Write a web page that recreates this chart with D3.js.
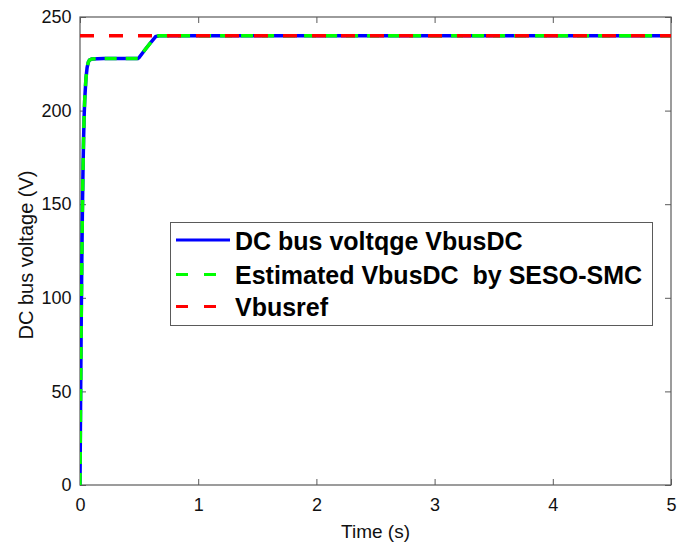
<!DOCTYPE html>
<html>
<head>
<meta charset="utf-8">
<script src="https://cdn.jsdelivr.net/npm/d3@7"></script>
<style>
  html, body { margin: 0; padding: 0; background: #fff; }
  svg { display: block; font-family: Arial, "Liberation Sans", sans-serif; }
</style>
</head>
<body>
<svg id="chart" width="680" height="545"></svg>
<script>
// Time (s) and DC bus voltage (V) samples
const timeS = [0, 0.005, 0.01, 0.015, 0.02, 0.025, 0.03, 0.035, 0.04, 0.05, 0.06, 0.07, 0.08, 0.1, 0.2, 0.3, 0.4, 0.49, 0.5, 0.55, 0.6, 0.64, 0.67, 1, 2, 3, 4, 5];
const vbusDC = [0, 45, 85, 118, 145, 167, 184, 197, 206, 217, 223, 225.8, 227, 227.6, 227.8, 227.8, 227.8, 227.8, 228.3, 232.5, 236.5, 239.5, 240, 240, 240, 240, 240, 240];
const vbusEst = [0, 45, 85, 118, 145, 167, 184, 197, 206, 217, 223, 225.8, 227, 227.6, 227.8, 227.8, 227.8, 227.8, 228.3, 232.5, 236.5, 239.5, 240, 240, 240, 240, 240, 240];
const refTime = [0, 5];
const vbusRef = [240, 240];

const xTicks = [0, 1, 2, 3, 4, 5];
const yTicks = [0, 50, 100, 150, 200, 250];
const legendLabels = ["DC bus voltqge VbusDC", "Estimated VbusDC  by SESO-SMC", "Vbusref"];

const svg = d3.select("#chart");
const m = { left: 80, right: 671, top: 17, bottom: 485 };

const x = d3.scaleLinear().domain([0, 5]).range([m.left, m.right]);
const y = d3.scaleLinear().domain([0, 250]).range([m.bottom, m.top]);

const axisColor = "#5a5a5a";

// Frame
svg.append("rect")
  .attr("x", m.left).attr("y", m.top)
  .attr("width", m.right - m.left).attr("height", m.bottom - m.top)
  .attr("fill", "none").attr("stroke", axisColor).attr("stroke-width", 1.2);

// Axes (ticks point inward, mirrored on top and right)
const styleAxis = g => {
  g.select(".domain").remove();
  g.selectAll(".tick line").attr("stroke", axisColor).attr("stroke-width", 1);
  g.selectAll(".tick text").attr("fill", "#111").attr("font-size", 18);
};
svg.append("g").attr("transform", `translate(0,${m.bottom})`)
  .call(d3.axisBottom(x).tickValues(xTicks).tickSizeInner(-6).tickPadding(13).tickFormat(d3.format("d")))
  .call(styleAxis);
svg.append("g").attr("transform", `translate(${m.left},0)`)
  .call(d3.axisLeft(y).tickValues(yTicks).tickSizeInner(-6).tickPadding(8.5).tickFormat(d3.format("d")))
  .call(styleAxis);
svg.append("g").attr("transform", `translate(0,${m.top})`)
  .call(d3.axisTop(x).tickValues(xTicks).tickSizeInner(-6).tickFormat(""))
  .call(styleAxis);
svg.append("g").attr("transform", `translate(${m.right},0)`)
  .call(d3.axisRight(y).tickValues(yTicks).tickSizeInner(-6).tickFormat(""))
  .call(styleAxis);

// Axis titles
svg.append("text").attr("x", (m.left + m.right) / 2).attr("y", 538)
  .attr("text-anchor", "middle").attr("font-size", 19).attr("fill", "#111").text("Time (s)");
svg.append("text").attr("transform", "translate(32.5,255) rotate(-90)")
  .attr("text-anchor", "middle").attr("font-size", 20).attr("fill", "#111").text("DC bus voltage (V)");

// Series
svg.append("clipPath").attr("id", "plotclip").append("rect")
  .attr("x", m.left).attr("y", m.top).attr("width", m.right - m.left + 2).attr("height", m.bottom - m.top);
const plot = svg.append("g").attr("clip-path", "url(#plotclip)");

const line = d3.line().x(d => x(d[0])).y(d => y(d[1]));
const zip = (a, b) => a.map((v, i) => [v, b[i]]);

plot.append("path").datum(zip(timeS, vbusDC)).attr("d", line)
  .attr("fill", "none").attr("stroke", "#0000ff").attr("stroke-width", 3.5);
plot.append("path").datum(zip(timeS, vbusEst)).attr("d", line)
  .attr("fill", "none").attr("stroke", "#00ff00").attr("stroke-width", 3.5)
  .attr("stroke-dasharray", "12,9");
plot.append("path").datum(zip(refTime, vbusRef)).attr("d", line)
  .attr("fill", "none").attr("stroke", "#ff0000").attr("stroke-width", 3.5)
  .attr("stroke-dasharray", "14,15");

// Legend
const lg = svg.append("g");
lg.append("rect").attr("x", 170.5).attr("y", 222.5).attr("width", 482).attr("height", 103)
  .attr("fill", "#fff").attr("stroke", axisColor).attr("stroke-width", 1);
const legendStyles = [
  { color: "#0000ff", dash: null },
  { color: "#00ff00", dash: "12,16" },
  { color: "#ff0000", dash: "12,16" }
];
const rowY = [240, 274.5, 306.5];
legendLabels.forEach((lab, i) => {
  lg.append("line").attr("x1", 176).attr("x2", 230).attr("y1", rowY[i]).attr("y2", rowY[i])
    .attr("stroke", legendStyles[i].color).attr("stroke-width", 3)
    .attr("stroke-dasharray", legendStyles[i].dash);
  lg.append("text").attr("x", 235).attr("y", rowY[i] + 9.5).attr("font-size", 25)
    .attr("font-weight", "bold").attr("fill", "#000")
    .style("white-space", "pre").text(lab);
});
</script>
</body>
</html>
